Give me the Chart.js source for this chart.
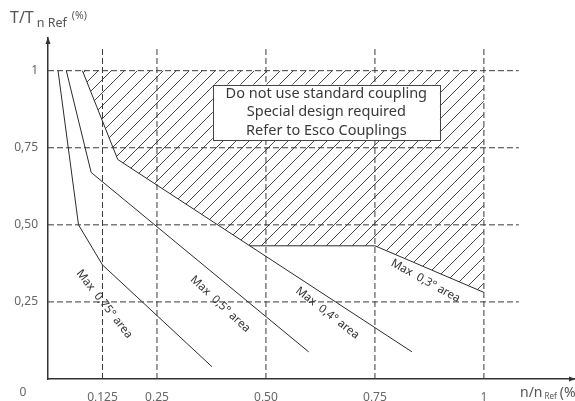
<!DOCTYPE html>
<html>
<head>
<meta charset="utf-8">
<script src="https://cdn.jsdelivr.net/npm/chart.js@4/dist/chart.umd.min.js"></script>
<style>
  body { margin: 0; background: #fff; }
  #wrap { width: 575px; height: 401px; }
</style>
</head>
<body>
<div id="wrap"><canvas id="myChart" width="575" height="401"></canvas></div>
<script>
// ticks
const xTicks = [0.125, 0.25, 0.5, 0.75, 1]
const xTickLabels = ['0,125', '0,25', '0,50', '0,75', '1']
const yTicks = [0.25, 0.5, 0.75, 1]
const yTickLabels = ['0,25', '0,50', '0,75', '1']

// curves [n/nRef, T/TnRef]
const curve075 = [[0.023, 1], [0.07, 0.5], [0.125, 0.37], [0.376, 0.04]]
const curve05 = [[0.042, 1], [0.099, 0.67], [0.598, 0.088]]
const curve04 = [[0.079, 1], [0.16, 0.712], [0.835, 0.088]]
const curve03 = [[0.463, 0.432], [0.75, 0.432], [1, 0.281]]

// hatched zone (special design)
const hatchTop = [[0.079, 1], [1, 1]]
const hatchBottom = [[0.079, 1], [0.16, 0.712], [0.463, 0.432], [0.75, 0.432], [1, 0.281]]

const areaLabels = ['Max  0,75° area', 'Max  0,5° area', 'Max  0,4° area', 'Max  0,3° area']
const areaAnchors = [[0.129, 0.243], [0.395, 0.243], [0.641, 0.214], [0.866, 0.318]]
const areaAngles = [52, 43, 38, 29]

const noteLines = ['Do not use standard coupling', 'Special design required', 'Refer to Esco Couplings']
const noteBox = [0.378, 0.955, 0.899, 0.775]

const gridTop = 1.07
const gridRight = 1.08

const toPoints = arr => arr.map(([x, y]) => ({ x, y }))

const makeHatch = () => {
    const c = document.createElement('canvas')
    c.width = 13
    c.height = 13
    const g = c.getContext('2d')
    g.strokeStyle = '#333'
    g.lineWidth = 0.9
    g.beginPath()
    g.moveTo(-2, 15); g.lineTo(15, -2)
    g.moveTo(-2, 2); g.lineTo(2, -2)
    g.moveTo(11, 15); g.lineTo(15, 11)
    g.stroke()
    return g.createPattern(c, 'repeat')
}

const solid = (data) => ({
    data: toPoints(data),
    showLine: true,
    borderColor: '#2b2b2b',
    borderWidth: 1,
    pointRadius: 0,
    fill: false
})

const dashed = (data) => ({
    data: toPoints(data),
    showLine: true,
    borderColor: '#3a3a3a',
    borderWidth: 1,
    borderDash: [6, 3],
    pointRadius: 0,
    fill: false
})

const gridSets = [
    ...xTicks.map(v => dashed([[v, 0], [v, gridTop]])),
    ...yTicks.map(v => dashed([[0, v], [gridRight, v]]))
]

const overlay = {
    id: 'overlay',
    afterDatasetsDraw(chart) {
        const { ctx, scales: { x, y } } = chart
        ctx.save()
        // note box
        const bx0 = x.getPixelForValue(noteBox[0])
        const by0 = y.getPixelForValue(noteBox[1])
        const bx1 = x.getPixelForValue(noteBox[2])
        const by1 = y.getPixelForValue(noteBox[3])
        ctx.fillStyle = '#fff'
        ctx.fillRect(bx0, by0, bx1 - bx0, by1 - by0)
        ctx.strokeStyle = '#444'
        ctx.lineWidth = 1
        ctx.strokeRect(Math.round(bx0) + 0.5, Math.round(by0) + 0.5, Math.round(bx1 - bx0), Math.round(by1 - by0))
        ctx.fillStyle = '#3a3a3a'
        ctx.font = '14.5px "Noto Sans"'
        ctx.textAlign = 'center'
        ctx.textBaseline = 'middle'
        const cx = (bx0 + bx1) / 2
        noteLines.forEach((t, i) => {
            ctx.fillText(t, cx, by0 + 9 + i * 18.8)
        })
        // area labels
        ctx.font = '11.5px "Noto Sans"'
        ctx.fillStyle = '#333'
        areaLabels.forEach((t, i) => {
            ctx.save()
            ctx.translate(x.getPixelForValue(areaAnchors[i][0]), y.getPixelForValue(areaAnchors[i][1]))
            ctx.rotate(areaAngles[i] * Math.PI / 180)
            ctx.fillText(t, 0, 0)
            ctx.restore()
        })
        ctx.restore()
    },
    afterDraw(chart) {
        const { ctx, chartArea: a } = chart
        ctx.save()
        ctx.fillStyle = '#333'
        ctx.strokeStyle = '#333'
        // arrows
        ctx.beginPath()
        ctx.moveTo(a.left - 2.5, a.top + 6)
        ctx.lineTo(a.left, a.top - 1)
        ctx.lineTo(a.left + 2.5, a.top + 6)
        ctx.fill()
        ctx.beginPath()
        ctx.moveTo(a.right - 6, a.bottom - 2.5)
        ctx.lineTo(a.right + 1, a.bottom)
        ctx.lineTo(a.right - 6, a.bottom + 2.5)
        ctx.fill()
        // origin
        ctx.fillStyle = '#666'
        ctx.font = '12px "Noto Sans"'
        ctx.textAlign = 'center'
        ctx.textBaseline = 'middle'
        ctx.fillText('0', 23, 393)
        // axis titles
        ctx.fillStyle = '#555'
        ctx.textAlign = 'left'
        ctx.textBaseline = 'alphabetic'
        let px = 10
        const seq = (t, size, base) => {
            ctx.font = size + 'px "Noto Sans"'
            ctx.fillText(t, px, base)
            px += ctx.measureText(t).width
        }
        seq('T/T', 16, 23)
        px += 3
        seq('n Ref', 12.5, 27)
        px += 5
        seq('(%)', 10.5, 19)
        px = 520
        seq('n/n', 14, 397)
        px += 2
        seq('Ref', 8, 399)
        px += 3
        seq('(%', 14, 397)
        ctx.restore()
    }
}

const ctx = document.getElementById('myChart').getContext('2d')
const myChart = new Chart(ctx, {
    type: 'scatter',
    data: {
        datasets: [
            {
                data: toPoints(hatchTop),
                showLine: true,
                borderWidth: 0,
                borderColor: 'rgba(0,0,0,0)',
                pointRadius: 0,
                backgroundColor: makeHatch(),
                fill: '+1'
            },
            {
                data: toPoints(hatchBottom),
                showLine: true,
                borderWidth: 0,
                borderColor: 'rgba(0,0,0,0)',
                pointRadius: 0,
                fill: false
            },
            solid(curve075),
            solid(curve05),
            solid(curve04),
            solid(curve03),
            ...gridSets
        ]
    },
    options: {
        responsive: false,
        animation: false,
        devicePixelRatio: 1,
        layout: { padding: { top: 38, right: 0, left: 0, bottom: 0 } },
        scales: {
            x: {
                type: 'linear',
                min: 0,
                max: 1.209,
                afterBuildTicks: (s) => { s.ticks = xTicks.map(v => ({ value: v })) },
                afterFit: (s) => { s.height = 22 },
                ticks: {
                    padding: 11,
                    maxRotation: 0,
                    autoSkip: false,
                    color: '#666',
                    font: { family: 'Noto Sans', size: 12 },
                    callback: (v) => xTickLabels[xTicks.indexOf(v)]
                },
                grid: { display: false, drawTicks: false },
                border: { color: '#333', width: 1.5 }
            },
            y: {
                type: 'linear',
                min: 0,
                max: 1.106,
                afterBuildTicks: (s) => { s.ticks = yTicks.map(v => ({ value: v })) },
                afterFit: (s) => { s.width = 48 },
                ticks: {
                    padding: 10,
                    autoSkip: false,
                    color: '#666',
                    font: { family: 'Noto Sans', size: 12 },
                    callback: (v) => yTickLabels[yTicks.indexOf(v)]
                },
                grid: { display: false, drawTicks: false },
                border: { color: '#333', width: 1.5 }
            }
        },
        plugins: {
            legend: { display: false },
            tooltip: { enabled: false }
        }
    },
    plugins: [overlay]
})
</script>
</body>
</html>
